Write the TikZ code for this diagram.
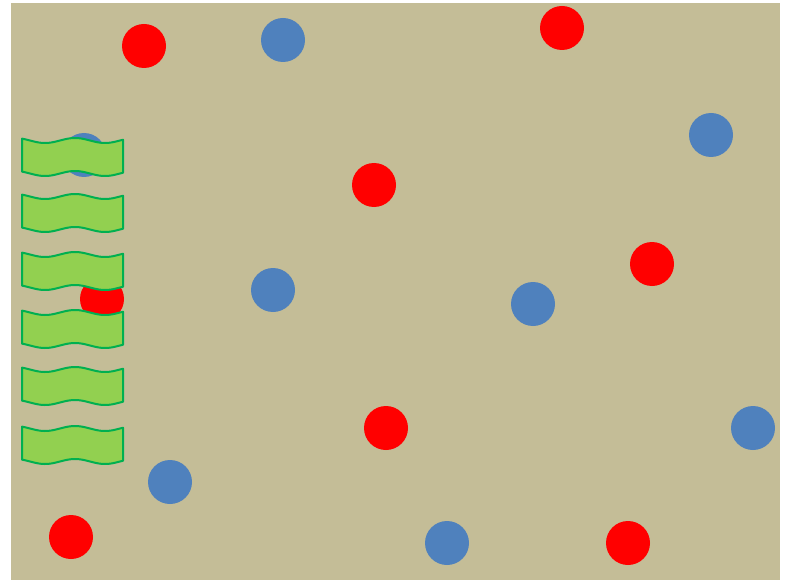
\documentclass[tikz,border=0pt]{standalone}
\usepackage{xcolor}
\usepackage{tikz}

\definecolor{sand}{HTML}{C4BD97}
\definecolor{ballred}{HTML}{FF0000}
\definecolor{ballblue}{HTML}{4F81BD}
\definecolor{flagfill}{HTML}{92D050}
\definecolor{flagline}{HTML}{00B050}

\tikzset{
  redball/.style={circle, fill=ballred, minimum size=44pt, inner sep=0pt},
  blueball/.style={circle, fill=ballblue, minimum size=44pt, inner sep=0pt},
  flag/.style={fill=flagfill, draw=flagline, line width=2pt, line join=round}
}

\begin{document}
\begin{tikzpicture}[x=1pt, y=-1pt]
  \useasboundingbox (0,0) rectangle (789,580);
  % Background
  \fill[sand] (11,3) rectangle (780,580);
  % Red balls
  \node[redball] (r1) at (144,46) {};
  \node[redball] (r2) at (562,28) {};
  \node[redball] (r3) at (374,185) {};
  \node[redball] (r4) at (102,299) {};
  \node[redball] (r5) at (652,264) {};
  \node[redball] (r6) at (386,428) {};
  \node[redball] (r7) at (71,537) {};
  \node[redball] (r8) at (628,543) {};
  % Blue balls
  \node[blueball] (b1) at (283,40) {};
  \node[blueball] (b2) at (84,155) {};
  \node[blueball] (b3) at (711,135) {};
  \node[blueball] (b4) at (273,290) {};
  \node[blueball] (b5) at (533,304) {};
  \node[blueball] (b6) at (753,428) {};
  \node[blueball] (b7) at (170,482) {};
  \node[blueball] (b8) at (447,543) {};
  % Wavy flags on the left
  \foreach \c in {157,213,271,329,386,445} {
    \draw[flag] plot[domain=22:123, samples=50] (\x, {\c-16.5+2.5*cos(6*(\x-45))})
      -- plot[domain=123:22, samples=50] (\x, {\c+16.5+2.5*cos(6*(\x-45))}) -- cycle;
  }
\end{tikzpicture}
\end{document}
